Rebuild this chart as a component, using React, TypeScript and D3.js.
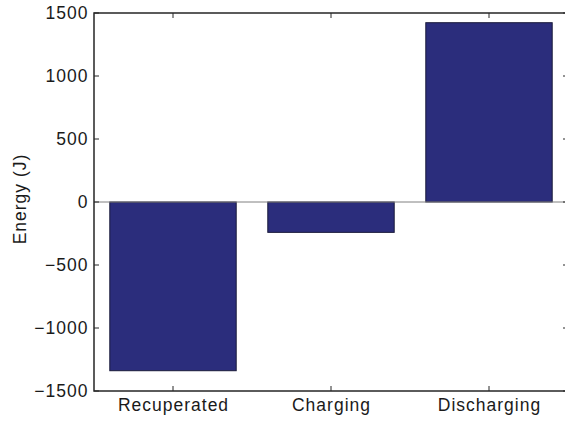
import React from "react";
import * as d3 from "d3";

const categories = ["Recuperated", "Charging", "Discharging"];
const energyValues = [-1339, -241, 1423];
const yTicks = [-1500, -1000, -500, 0, 500, 1000, 1500];

export default function App() {
  const W = 565, H = 422;
  const left = 94, right = 568, top = 13, bottom = 391;
  const x = d3.scaleLinear().domain([0.5, 3.5]).range([left, right]);
  const y = d3.scaleLinear().domain([-1500, 1500]).range([bottom, top]);
  const barW = (x(1.4) - x(0.6));
  const axisColor = "#262626";
  const font = "Liberation Sans, Arial, Helvetica, sans-serif";
  const fs = 17.5;
  const ls = 1;
  return (
    <svg width={W} height={H} style={{ position: "absolute", left: 0, top: 0, background: "#fff" }}>
      {categories.map((c, i) => {
        const v = energyValues[i];
        const y0 = y(0), y1 = y(v);
        return (
          <rect key={c} x={x(i + 1) - barW / 2} y={Math.min(y0, y1)} width={barW} height={Math.abs(y1 - y0)}
            fill="#2b2d7c" stroke="#1a1a3a" strokeWidth={1} />
        );
      })}
      <line x1={left} x2={right} y1={y(0)} y2={y(0)} stroke="#808080" strokeWidth={1} />
      <rect x={left} y={top} width={right - left} height={bottom - top} fill="none" stroke={axisColor} strokeWidth={1.5} />
      {yTicks.map(t => (
        <g key={t}>
          <line x1={left} x2={left + 5} y1={y(t)} y2={y(t)} stroke={axisColor} strokeWidth={1} />
          <line x1={right - 5} x2={right} y1={y(t)} y2={y(t)} stroke={axisColor} strokeWidth={1} />
          <text x={left - 5.5} y={y(t)} dy="0.36em" textAnchor="end" fontFamily={font} fontSize={fs}
            letterSpacing={ls} fill="#1a1a1a">
            {t < 0 ? "\u2212" + Math.abs(t) : String(t)}
          </text>
        </g>
      ))}
      {categories.map((c, i) => (
        <g key={c}>
          <line x1={x(i + 1)} x2={x(i + 1)} y1={bottom} y2={bottom - 5} stroke={axisColor} strokeWidth={1} />
          <line x1={x(i + 1)} x2={x(i + 1)} y1={top} y2={top + 5} stroke={axisColor} strokeWidth={1} />
          <text x={x(i + 1) + ls / 2} y={411} textAnchor="middle" fontFamily={font} fontSize={fs}
            letterSpacing={ls} fill="#1a1a1a">{c}</text>
        </g>
      ))}
      <text transform={`translate(26,${199}) rotate(-90)`} textAnchor="middle" fontFamily={font} fontSize={fs}
        letterSpacing={ls} fill="#1a1a1a">
        Energy (J)
      </text>
    </svg>
  );
}
